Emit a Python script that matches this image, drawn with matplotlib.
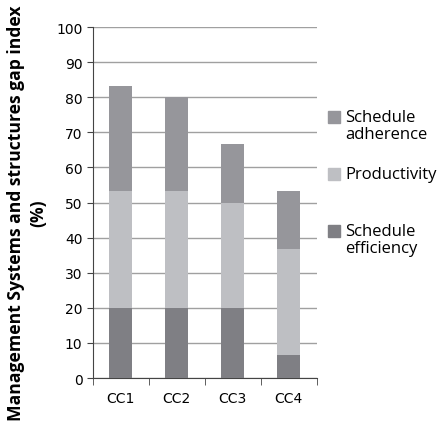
import numpy as np
import matplotlib.pyplot as plt
from matplotlib.patches import Rectangle

categories = ['CC1', 'CC2', 'CC3', 'CC4']
efficiency = [20, 20, 20, 6.7]
productivity = [33.3, 33.3, 30, 30]
adherence = [30, 26.7, 16.7, 16.7]

c_eff = '#7f7f84'
c_prod = '#bebfc3'
c_adh = '#96969b'

W, H = 440, 431
fig = plt.figure(figsize=(W / 100, H / 100), dpi=100)
ax = fig.add_axes([0.211, 0.1206, 0.509, 0.8144])

x = np.arange(len(categories))
eff = np.array(efficiency)
prod = np.array(productivity)
adh = np.array(adherence)
w = 0.41
ax.bar(x, eff, w, color=c_eff, zorder=3)
ax.bar(x, prod, w, bottom=eff, color=c_prod, zorder=3)
ax.bar(x, adh, w, bottom=eff + prod, color=c_adh, zorder=3)

ax.set_xlim(-0.5, 3.5)
ax.set_ylim(0, 100)
ax.set_yticks(np.arange(0, 101, 10))
ax.set_xticks(x)
ax.set_xticklabels(categories)
ax.set_xticks(np.arange(-0.5, 4, 1), minor=True)
ax.tick_params(axis='x', which='major', length=0, pad=9, labelsize=10)
ax.tick_params(axis='x', which='minor', length=5, direction='out', color='#444444')
ax.tick_params(axis='y', length=4, direction='out', color='#444444', labelsize=10)
ax.grid(axis='y', color='#a0a0a0', linewidth=1, zorder=0)
for s in ['top', 'right']:
    ax.spines[s].set_visible(False)
ax.spines['left'].set_color('#444444')
ax.spines['bottom'].set_color('#444444')

fig.text(27 / W, 1 - 213 / H, 'Management Systems and structures gap index\n(%)',
         rotation=90, ha='center', va='center', fontsize=12.6, fontweight='bold',
         family='Open Sans', linespacing=1.3, multialignment='center')

# legend, drawn by hand
leg_items = [(c_adh, 'Schedule\nadherence', 118),
             (c_prod, 'Productivity', 175),
             (c_eff, 'Schedule\nefficiency', 232)]
for col, lab, yc in leg_items:
    fig.patches.append(Rectangle((328 / W, 1 - (yc + 6) / H), 12 / W, 12 / H,
                                 transform=fig.transFigure, color=col))
    fig.text(345 / W, 1 - (yc - 8) / H, lab, ha='left', va='top',
             fontsize=12, family='Open Sans', linespacing=1.1)

fig.savefig('out.png', dpi=100)
